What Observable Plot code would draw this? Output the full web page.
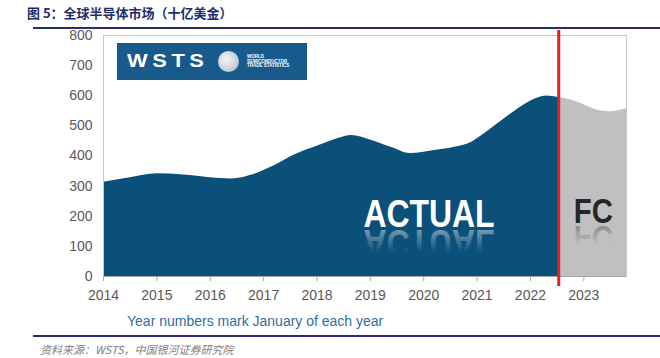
<!DOCTYPE html>
<html><head><meta charset="utf-8">
<script src="https://cdn.jsdelivr.net/npm/d3@7"></script>
<script src="https://cdn.jsdelivr.net/npm/@observablehq/plot@0.6"></script>
<style>
html,body{margin:0;padding:0;background:#fff;}
#page{position:relative;width:660px;height:358px;overflow:hidden;font-family:"Liberation Sans",Arial,sans-serif;}
#title{position:absolute;left:27px;top:4px;font:bold 13px "Noto Sans CJK SC",sans-serif;color:#1f2d6b;line-height:18px;white-space:nowrap;}
#tline{position:absolute;left:33px;right:0;top:27px;height:2px;background:#2a2d74;}
#chart{position:absolute;left:0;top:30px;width:660px;height:305px;}
#bline{position:absolute;left:33px;right:0;top:335px;height:2px;background:#2a2d74;}
#caption{position:absolute;left:40px;top:341px;font:italic 11px "Noto Sans CJK SC",sans-serif;color:#808080;line-height:16px;white-space:nowrap;}
#logo{position:absolute;left:117px;top:13px;width:190px;height:37px;background:#175a8b;}
#logo .wsts{position:absolute;left:10px;top:8px;font:bold 19px "Liberation Sans",Arial,sans-serif;color:#fff;letter-spacing:4px;transform:scaleX(1.15);transform-origin:left top;line-height:20px;}
#logo .globe{position:absolute;left:101px;top:8px;width:21px;height:21px;border-radius:50%;background:radial-gradient(circle at 40% 40%,#f4f6f8,#aab5c0);}
#logo .small{position:absolute;left:130px;top:12px;font:bold 4.5px "Liberation Sans",Arial,sans-serif;color:#fff;line-height:4.7px;white-space:nowrap;}
#note{position:absolute;left:127px;top:283px;font:14px "Liberation Sans",Arial,sans-serif;color:#2f6e9e;line-height:16px;white-space:nowrap;}
</style>
</head><body>
<div id="page">
  <div id="title">图 5：全球半导体市场（十亿美金）</div>
  <div id="tline"></div>
  <div id="chart">
    <div id="logo"><div class="wsts">WSTS</div><div class="globe"></div><div class="small">WORLD<br>SEMICONDUCTOR<br>TRADE STATISTICS</div></div>
    <div id="note">Year numbers mark January of each year</div>
  </div>
  <div id="bline"></div>
  <div id="caption">资料来源：WSTS，中国银河证券研究院</div>
</div>
<script>
// Actual market size (billion USD)
const actualYears  = [2014.0, 2014.5, 2015.0, 2015.5, 2016.0, 2016.4, 2016.8, 2017.2, 2017.6, 2018.0, 2018.4, 2018.65, 2019.0, 2019.4, 2019.75, 2020.2, 2020.6, 2020.9, 2021.2, 2021.6, 2022.0, 2022.3, 2022.53];
const actualValues = [313,    328,    341,    337,    328,    324,    338,    368,    405,    432,    458,    468,     453,    428,    408,     418,    430,    446,    482,    535,    582,    599,    594];
// Forecast
const fcYears  = [2022.53, 2022.8, 2023.0, 2023.3, 2023.5, 2023.8];
const fcValues = [594,     584,    570,    550,    547,    557];
// Axis ticks
const xTicks = [2014, 2015, 2016, 2017, 2018, 2019, 2020, 2021, 2022, 2023];
const yTicks = [0, 100, 200, 300, 400, 500, 600, 700, 800];
const splitYear = 2022.53;
// Annotations
const labelText = ["ACTUAL", "FC"];
const labelX = [2020.1, 2023.18];
const labelY = [163, 179];

const actual = actualYears.map((x, i) => ({x, v: actualValues[i]}));
const fc = fcYears.map((x, i) => ({x, v: fcValues[i]}));
const labels = labelText.map((t, i) => ({t, x: labelX[i], y: labelY[i]}));

const plot = Plot.plot({
  width: 660, height: 305,
  marginLeft: 103, marginRight: 34, marginTop: 5, marginBottom: 59,
  style: {fontFamily: '"Liberation Sans", Arial, sans-serif', fontSize: "14px", color: "#595959", background: "transparent", overflow: "visible"},
  x: {domain: [2014, 2023.8], ticks: xTicks, tickFormat: d => String(d), tickSize: 5, tickPadding: 9, label: null},
  y: {domain: [0, 800], ticks: yTicks, tickSize: 0, tickPadding: 11, label: null},
  marks: [
    Plot.areaY(fc, {x: "x", y: "v", fill: "#c0c0c0", curve: "monotone-x"}),
    Plot.areaY(actual, {x: "x", y: "v", fill: "#0b5079", curve: "monotone-x"}),
    Plot.frame({stroke: "#c8c8c8"}),
    Plot.ruleY([0], {stroke: "#a6a6a6"}),
    Plot.text([labels[0]], {x: "x", y: "y", text: "t", fill: "white", fontSize: 38, fontWeight: "bold", lineAnchor: "bottom", textAnchor: "middle"}),
    Plot.text([labels[1]], {x: "x", y: "y", text: "t", fill: "#262626", fontSize: 35, fontWeight: "bold", lineAnchor: "bottom", textAnchor: "middle"}),
    Plot.ruleX([splitYear], {y1: -33, y2: 817, stroke: "#e2231a", strokeWidth: 3})
  ]
});
document.getElementById("chart").insertBefore(plot, document.getElementById("chart").firstChild);

const svg = d3.select(plot);
svg.selectAll('[aria-label="x-axis"] line, [aria-label="x-axis tick"] path, [aria-label="x-axis"] .tick line').attr("stroke", "#a6a6a6");
const defs = svg.insert("defs", ":first-child");
function grad(id, color, op) {
  const g = defs.append("linearGradient").attr("id", id).attr("x1", 0).attr("y1", 0).attr("x2", 0).attr("y2", 1);
  g.append("stop").attr("offset", "0.3").attr("stop-color", color).attr("stop-opacity", 0);
  g.append("stop").attr("offset", "1").attr("stop-color", color).attr("stop-opacity", op);
}
grad("reflW", "#ffffff", 0.55);
grad("reflD", "#262626", 0.45);
let n = 0;
svg.selectAll("text").each(function() {
  const txt = this.textContent;
  if (txt !== "ACTUAL" && txt !== "FC") return;
  const tr = this.getAttribute("transform") || "";
  this.setAttribute("transform", tr + " scale(0.84,1)");
  const m = /translate\(\s*([-\d.e]+)[ ,]+([-\d.e]+)\s*\)/.exec(tr);
  const by = m ? +m[2] : 0;
  const id = "lbl" + (n++);
  this.setAttribute("id", id);
  // mirrored reflection drawn as a <use> of the same text
  const use = document.createElementNS("http://www.w3.org/2000/svg", "use");
  use.setAttribute("href", "#" + id);
  use.setAttribute("transform", `translate(0,${2 * by + 3}) scale(1,-1)`);
  use.setAttribute("fill", txt === "ACTUAL" ? "url(#reflW)" : "url(#reflD)");
  this.parentNode.insertBefore(use, this);
});
</script>
</body></html>
